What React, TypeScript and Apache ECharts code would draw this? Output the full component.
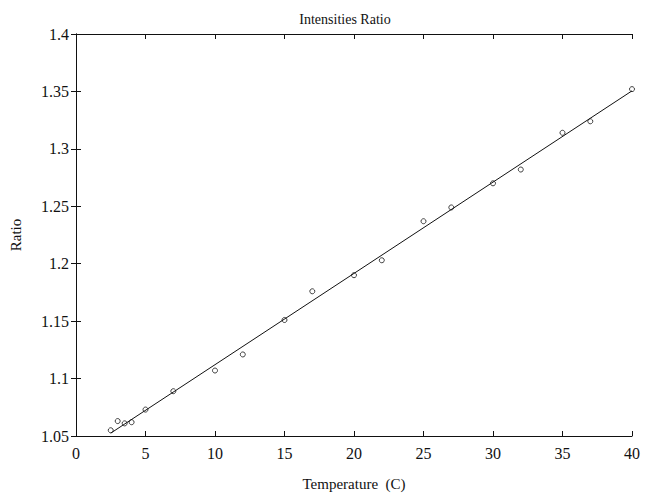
import React, { useEffect, useRef } from "react";
import * as echarts from "echarts";

const temperature = [2.5, 3, 3.5, 4, 5, 7, 10, 12, 15, 17, 20, 22, 25, 27, 30, 32, 35, 37, 40];
const ratio = [1.055, 1.063, 1.061, 1.062, 1.073, 1.089, 1.107, 1.121, 1.151, 1.176, 1.190, 1.203, 1.237, 1.249, 1.270, 1.282, 1.314, 1.324, 1.352];
const fitX = [2.5, 40];
const fitY = [1.0525, 1.3505];
const xTicks = [0, 5, 10, 15, 20, 25, 30, 35, 40];
const yTicks = [1.05, 1.1, 1.15, 1.2, 1.25, 1.3, 1.35, 1.4];

const FONT = "Liberation Serif";

export default function App() {
  const ref = useRef<HTMLDivElement>(null);
  useEffect(() => {
    if (!ref.current) return;
    const chart = echarts.init(ref.current, undefined, { renderer: "svg" });
    const axisLine = { show: true, lineStyle: { color: "#111", width: 1 } };
    const tick = { show: true, inside: true, length: 5, lineStyle: { color: "#111" } };
    chart.setOption({
      animation: false,
      backgroundColor: "#fff",
      title: {
        text: "Intensities Ratio",
        left: 340,
        textAlign: "center",
        top: 7,
        textStyle: { fontFamily: FONT, fontSize: 14, fontWeight: "normal", color: "#111" },
      },
      grid: { left: 75, right: 20, top: 34, bottom: 52 },
      xAxis: [
        {
          type: "value",
          min: xTicks[0],
          max: xTicks[xTicks.length - 1],
          interval: 5,
          position: "bottom",
          axisLine,
          axisTick: tick,
          splitLine: { show: false },
          axisLabel: { fontFamily: FONT, fontSize: 16, color: "#111", margin: 9 },
          name: "Temperature  (C)",
          nameLocation: "middle",
          nameGap: 40,
          nameTextStyle: { fontFamily: FONT, fontSize: 15, color: "#111" },
        },
        {
          type: "value",
          min: xTicks[0],
          max: xTicks[xTicks.length - 1],
          interval: 5,
          position: "top",
          axisLine,
          axisTick: tick,
          splitLine: { show: false },
          axisLabel: { show: false },
        },
      ],
      yAxis: [
        {
          type: "value",
          min: yTicks[0],
          max: yTicks[yTicks.length - 1],
          interval: 0.05,
          position: "left",
          axisLine,
          axisTick: tick,
          splitLine: { show: false },
          axisLabel: { fontFamily: FONT, fontSize: 16, color: "#111", margin: 7, formatter: (v: number) => String(+v.toFixed(2)) },
          name: "Ratio",
          nameLocation: "middle",
          nameGap: 53,
          nameRotate: 90,
          nameTextStyle: { fontFamily: FONT, fontSize: 15, color: "#111" },
        },
        {
          type: "value",
          min: yTicks[0],
          max: yTicks[yTicks.length - 1],
          interval: 0.05,
          position: "right",
          axisLine,
          axisTick: tick,
          splitLine: { show: false },
          axisLabel: { show: false },
        },
      ],
      series: [
        {
          type: "line",
          data: fitX.map((x, i) => [x, fitY[i]]),
          symbol: "none",
          lineStyle: { color: "#111", width: 1 },
          silent: true,
        },
        {
          type: "scatter",
          data: temperature.map((x, i) => [x, ratio[i]]),
          symbol: "circle",
          symbolSize: 5,
          itemStyle: { color: "rgba(255,255,255,0)", borderColor: "#111", borderWidth: 1 },
        },
      ],
    });
    return () => chart.dispose();
  }, []);
  return <div ref={ref} style={{ width: 652, height: 496, position: "absolute", left: 0, top: 0 }} />;
}
